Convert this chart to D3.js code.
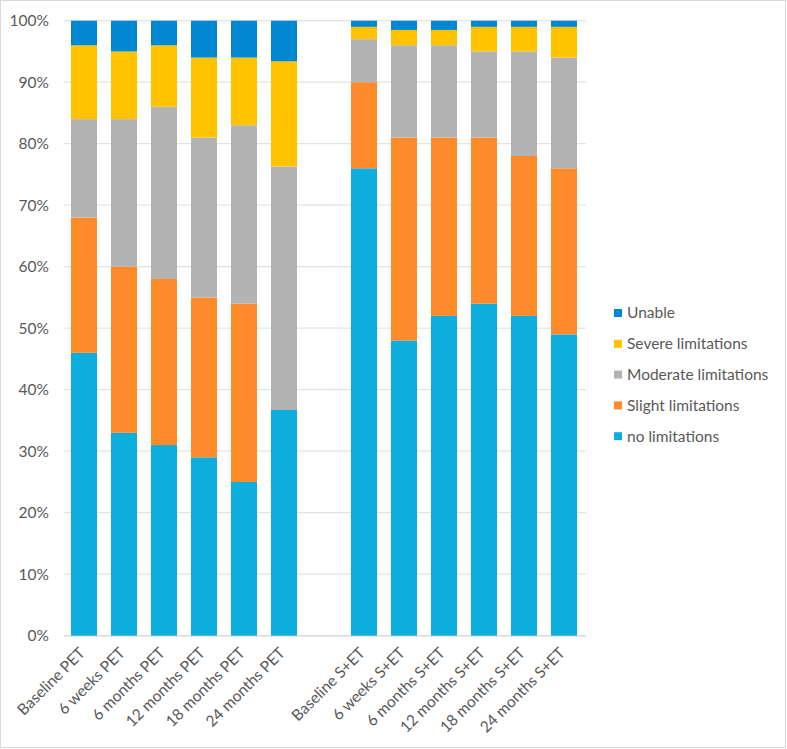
<!DOCTYPE html>
<html><head><meta charset="utf-8">
<script src="https://cdn.jsdelivr.net/npm/d3@7/dist/d3.min.js"></script>
<style>body{margin:0;background:#fff;}svg{display:block;}</style>
</head><body>
<svg id="c" width="787" height="749"></svg>
<script>
const categories = ["Baseline PET","6 weeks PET","6 months PET","12 months PET","18 months PET","24 months PET","",
  "Baseline S+ET","6 weeks S+ET","6 months S+ET","12 months S+ET","18 months S+ET","24 months S+ET"];
const seriesNames = ["no limitations","Slight limitations","Moderate limitations","Severe limitations","Unable"];
const noLimitations = [46,33,31,29,25,36.7,null,76,48,52,54,52,49];
const slightLimitations = [22,27,27,26,29,0,null,14,33,29,27,26,27];
const moderateLimitations = [16,24,28,26,29,39.6,null,7,15,15,14,17,18];
const severeLimitations = [12,11,10,13,11,17.1,null,2,2.5,2.5,4,4,5];
const unable = [4,5,4,6,6,6.6,null,1,1.5,1.5,1,1,1];
const yTicks = [0,10,20,30,40,50,60,70,80,90,100];
const colors = ["#0DAEDE","#FF8A2B","#B3B3B3","#FFC300","#0288D1"];

const svg = d3.select("#c");
svg.append("rect").attr("x",0.5).attr("y",0.5).attr("width",785).attr("height",747)
  .attr("fill","#fff").attr("stroke","#D9D9D9");

const m = {l:64,r:584,t:20.7,b:635.7};
const x = d3.scaleBand().domain(d3.range(categories.length)).range([m.l,m.r]).paddingInner(0.35).paddingOuter(0.175);
const y = d3.scaleLinear().domain([0,100]).range([m.b,m.t]);

const font = "Lato, 'Open Sans', sans-serif";
const fs = 15.5;
// grid
svg.append("g").selectAll("line").data(yTicks).join("line")
  .attr("x1",m.l).attr("x2",586).attr("y1",d=>y(d)).attr("y2",d=>y(d))
  .attr("stroke",d=>d===0?"#D9D9D9":"#E3E3E3").attr("stroke-width",d=>d===0?1.5:1.2);
svg.append("g").selectAll("text").data(yTicks).join("text")
  .attr("x",49).attr("y",d=>y(d)).attr("dy","0.35em").attr("text-anchor","end")
  .attr("font-family",font).attr("font-size",fs).attr("fill","#595959").text(d=>d+"%");

const rows = categories.map((c,i)=>({i, v:[noLimitations[i],slightLimitations[i],moderateLimitations[i],severeLimitations[i],unable[i]]}))
  .filter(r=>r.v[0]!==null);
const stacked = d3.stack().keys(d3.range(5)).value((r,k)=>r.v[k])(rows);
svg.append("g").selectAll("g").data(stacked).join("g").attr("fill",(d,k)=>colors[k])
  .selectAll("rect").data(d=>d).join("rect")
  .attr("x",d=>x(d.data.i)).attr("width",x.bandwidth())
  .attr("y",d=>y(d[1])).attr("height",d=>Math.max(0,y(d[0])-y(d[1])));

// x labels
svg.append("g").selectAll("text").data(categories.map((c,i)=>({c,i})).filter(d=>d.c)).join("text")
  .attr("transform",d=>`translate(${x(d.i)+x.bandwidth()/2+2},${654}) rotate(-45)`)
  .attr("text-anchor","end").attr("font-family",font).attr("font-size",fs).attr("fill","#595959")
  .text(d=>d.c);

// legend
const legOrder = [4,3,2,1,0];
const lg = svg.append("g").selectAll("g").data(legOrder).join("g")
  .attr("transform",(d,j)=>`translate(614,${313+j*30.8})`);
lg.append("rect").attr("x",0).attr("y",-4).attr("width",8).attr("height",8).attr("fill",d=>colors[d]);
lg.append("text").attr("x",13).attr("dy","0.35em").attr("font-family",font).attr("font-size",fs)
  .attr("fill","#595959").text(d=>seriesNames[d]);
</script>
</body></html>
